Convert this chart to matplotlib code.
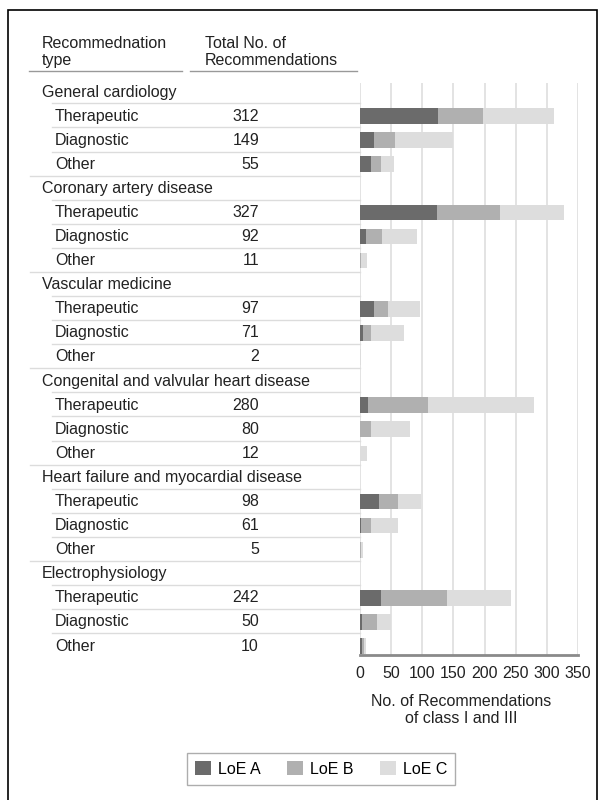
import matplotlib
matplotlib.use('Agg')
import matplotlib.pyplot as plt
from matplotlib import transforms
from matplotlib.lines import Line2D
from matplotlib.patches import Patch, Rectangle

plt.rcParams['font.family'] = ['Liberation Sans', 'DejaVu Sans']
plt.rcParams['font.size'] = 11.5

# Data
groups = ['General cardiology', 'Coronary artery disease', 'Vascular medicine',
          'Congenital and valvular heart disease', 'Heart failure and myocardial disease',
          'Electrophysiology']
rec_types = ['Therapeutic', 'Diagnostic', 'Other']
totals = [312, 149, 55, 327, 92, 11, 97, 71, 2, 280, 80, 12, 98, 61, 5, 242, 50, 10]
loe_a = [125, 22, 17, 124, 10, 0, 22, 5, 0, 13, 0, 0, 31, 2, 0, 33, 4, 3]
loe_b = [73, 34, 17, 100, 26, 1, 23, 12, 0, 96, 17, 0, 30, 15, 1, 106, 23, 4]
loe_c = [114, 93, 21, 103, 56, 10, 52, 54, 2, 171, 63, 12, 37, 44, 4, 103, 23, 3]
loe_labels = ['LoE A', 'LoE B', 'LoE C']
loe_colors = ['#6b6b6b', '#b0b0b0', '#dddddd']
x_ticks = [0, 50, 100, 150, 200, 250, 300, 350]

W, H = 604, 800
fig = plt.figure(figsize=(W / 100, H / 100), dpi=100)

# bar panel placed in pixel coordinates
pitch = 24.09
top_px, bot_px, row0_px = 83, 655, 92
ax = fig.add_axes([360 / W, (H - bot_px) / H, (578 - 360) / W, (bot_px - top_px) / H])
ax.set_xlim(0, 350)
ax.set_ylim((bot_px - row0_px) / pitch, (top_px - row0_px) / pitch)

# y position of each sub row
ypos = []
for g in range(len(groups)):
    for k in range(len(rec_types)):
        ypos.append(4 * g + k + 1)

left_b = [a + b for a, b in zip(loe_a, loe_b)]
ax.barh(ypos, loe_a, height=0.65, color=loe_colors[0], zorder=3)
ax.barh(ypos, loe_b, left=loe_a, height=0.65, color=loe_colors[1], zorder=3)
ax.barh(ypos, loe_c, left=left_b, height=0.65, color=loe_colors[2], zorder=3)

ax.set_xticks(x_ticks)
ax.set_yticks([])
ax.grid(axis='x', color='#e0e0e0', lw=1.3, zorder=0)
for s in ['top', 'right', 'left']:
    ax.spines[s].set_visible(False)
ax.spines['bottom'].set_color('#8a8a8a')
ax.spines['bottom'].set_linewidth(2)
ax.tick_params(axis='x', length=0, pad=8, labelsize=11.5, labelcolor='#222222')

# table on the left
blend = transforms.blended_transform_factory(fig.transFigure, ax.transData)
sep_color = '#dcdcdc'
for g, name in enumerate(groups):
    gy = 4 * g
    fig.text(42 / W, gy, name, transform=blend, va='center', ha='left', color='#222222')
    fig.add_artist(Line2D([52 / W, 360 / W], [gy + 0.47, gy + 0.47], transform=blend,
                          color=sep_color, lw=1))
    for k, t in enumerate(rec_types):
        i = 3 * g + k
        y = ypos[i]
        fig.text(55 / W, y, t, transform=blend, va='center', ha='left', color='#222222')
        fig.text(259 / W, y, str(totals[i]), transform=blend, va='center', ha='right',
                 color='#222222')
        if k < 2:
            fig.add_artist(Line2D([52 / W, 360 / W], [y + 0.47, y + 0.47], transform=blend,
                                  color=sep_color, lw=1))
        elif g < len(groups) - 1:
            fig.add_artist(Line2D([30 / W, 360 / W], [y + 0.47, y + 0.47], transform=blend,
                                  color=sep_color, lw=1))

# column headers
fig.text(42 / W, (H - 52) / H, 'Recommednation\ntype', ha='left', va='center',
         linespacing=1.12, color='#222222')
fig.text(205 / W, (H - 52) / H, 'Total No. of\nRecommendations', ha='left', va='center',
         linespacing=1.12, color='#222222')
fig.add_artist(Line2D([29 / W, 182 / W], [(H - 71) / H] * 2, color='#999999', lw=1))
fig.add_artist(Line2D([190 / W, 357 / W], [(H - 71) / H] * 2, color='#999999', lw=1))

# x label
fig.text(461 / W, (H - 710) / H, 'No. of Recommendations\nof class I and III', ha='center',
         va='center', linespacing=1.1, color='#222222')

# legend
handles = [Patch(facecolor=c, edgecolor='none') for c in loe_colors]
leg = fig.legend(handles, loe_labels, loc='center', bbox_to_anchor=(321 / W, (H - 769) / H),
                 ncol=3, frameon=True, fancybox=False, handlelength=1.0, handleheight=1.0,
                 handletextpad=0.45, columnspacing=1.65, borderpad=0.5, borderaxespad=0,
                 fontsize=11.5)
leg.get_frame().set_edgecolor('#999999')
leg.get_frame().set_linewidth(1)

# outer border
fig.add_artist(Rectangle((8 / W, -0.01), (597 - 8) / W, (H - 10) / H + 0.01,
                         transform=fig.transFigure, fill=False, edgecolor='black', lw=1.2))

fig.savefig('out.png', dpi=100)
